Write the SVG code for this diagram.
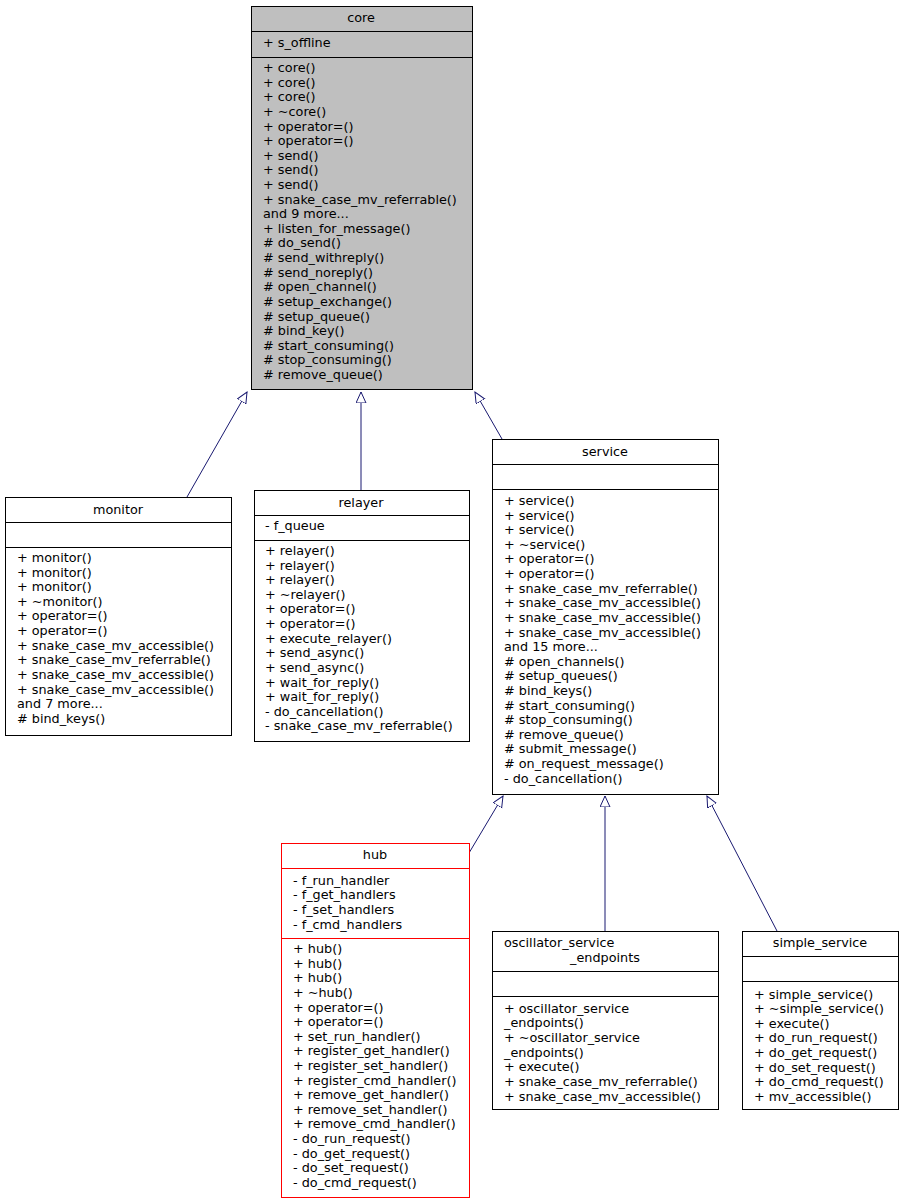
<svg xmlns="http://www.w3.org/2000/svg" width="904" height="1204" viewBox="0 0 904 1204">
<style>
text{font-family:"DejaVu Sans",sans-serif;font-size:12.8px;fill:#000}
.c{text-anchor:middle}
.b{fill:#fff;stroke:#000;stroke-width:1}
.l{stroke:#000;stroke-width:1}
.e{stroke:#191970;stroke-width:1;fill:none}
</style>
<defs><marker id="t" markerWidth="12" markerHeight="12" refX="11" refY="5" orient="auto" markerUnits="userSpaceOnUse"><path d="M0,0 L11,5 L0,10 Z" fill="#fff" stroke="#191970"/></marker></defs>
<rect width="904" height="1204" fill="#fff"/>
<g id="connectors">
<line class="e" x1="187" y1="497" x2="247" y2="392" marker-end="url(#t)"/>
<line class="e" x1="361" y1="490" x2="361" y2="392" marker-end="url(#t)"/>
<line class="e" x1="502" y1="439" x2="475" y2="392" marker-end="url(#t)"/>
<line class="e" x1="469" y1="853" x2="503" y2="796" marker-end="url(#t)"/>
<line class="e" x1="605" y1="931" x2="605" y2="796" marker-end="url(#t)"/>
<line class="e" x1="777" y1="931" x2="707" y2="796" marker-end="url(#t)"/>
</g>
<g id="core">
<rect x="251.5" y="6.5" width="221" height="383" fill="#bfbfbf" stroke="#000"/>
<line class="l" x1="251" y1="31.5" x2="472" y2="31.5"/><line class="l" x1="251" y1="57.5" x2="472" y2="57.5"/>
<text class="c" x="361" y="22">core</text>
<text x="263" y="47">+ s_offline</text>
<text x="263" y="72">+ core()</text><text x="263" y="87">+ core()</text><text x="263" y="101">+ core()</text><text x="263" y="116">+ ~core()</text><text x="263" y="131">+ operator=()</text><text x="263" y="145">+ operator=()</text><text x="263" y="160">+ send()</text><text x="263" y="174">+ send()</text><text x="263" y="189">+ send()</text><text x="263" y="204">+ snake_case_mv_referrable()</text><text x="263" y="218">and 9 more...</text><text x="263" y="233">+ listen_for_message()</text><text x="263" y="247">#  do_send()</text><text x="263" y="262">#  send_withreply()</text><text x="263" y="277">#  send_noreply()</text><text x="263" y="291">#  open_channel()</text><text x="263" y="306">#  setup_exchange()</text><text x="263" y="321">#  setup_queue()</text><text x="263" y="335">#  bind_key()</text><text x="263" y="350">#  start_consuming()</text><text x="263" y="364">#  stop_consuming()</text><text x="263" y="379">#  remove_queue()</text>
</g>
<g id="monitor">
<rect class="b" x="5.5" y="497.5" width="226" height="238"/>
<line class="l" x1="5" y1="522.5" x2="231" y2="522.5"/><line class="l" x1="5" y1="547.5" x2="231" y2="547.5"/>
<text class="c" x="118" y="514">monitor</text>
<text x="17" y="562">+ monitor()</text><text x="17" y="577">+ monitor()</text><text x="17" y="591">+ monitor()</text><text x="17" y="606">+ ~monitor()</text><text x="17" y="620">+ operator=()</text><text x="17" y="635">+ operator=()</text><text x="17" y="650">+ snake_case_mv_accessible()</text><text x="17" y="664">+ snake_case_mv_referrable()</text><text x="17" y="679">+ snake_case_mv_accessible()</text><text x="17" y="694">+ snake_case_mv_accessible()</text><text x="17" y="708">and 7 more...</text><text x="17" y="723">#  bind_keys()</text>
</g>
<g id="relayer">
<rect class="b" x="254.5" y="490.5" width="215" height="251"/>
<line class="l" x1="254" y1="515.5" x2="469" y2="515.5"/><line class="l" x1="254" y1="540.5" x2="469" y2="540.5"/>
<text class="c" x="361" y="507">relayer</text>
<text x="265" y="530">- f_queue</text>
<text x="265" y="555">+ relayer()</text><text x="265" y="570">+ relayer()</text><text x="265" y="584">+ relayer()</text><text x="265" y="599">+ ~relayer()</text><text x="265" y="613">+ operator=()</text><text x="265" y="628">+ operator=()</text><text x="265" y="643">+ execute_relayer()</text><text x="265" y="657">+ send_async()</text><text x="265" y="672">+ send_async()</text><text x="265" y="687">+ wait_for_reply()</text><text x="265" y="701">+ wait_for_reply()</text><text x="265" y="716">- do_cancellation()</text><text x="265" y="730">- snake_case_mv_referrable()</text>
</g>
<g id="service">
<rect class="b" x="492.5" y="439.5" width="226" height="355"/>
<line class="l" x1="492" y1="464.5" x2="718" y2="464.5"/><line class="l" x1="492" y1="489.5" x2="718" y2="489.5"/>
<text class="c" x="605" y="456">service</text>
<text x="504" y="505">+ service()</text><text x="504" y="520">+ service()</text><text x="504" y="534">+ service()</text><text x="504" y="549">+ ~service()</text><text x="504" y="563">+ operator=()</text><text x="504" y="578">+ operator=()</text><text x="504" y="593">+ snake_case_mv_referrable()</text><text x="504" y="607">+ snake_case_mv_accessible()</text><text x="504" y="622">+ snake_case_mv_accessible()</text><text x="504" y="637">+ snake_case_mv_accessible()</text><text x="504" y="651">and 15 more...</text><text x="504" y="666">#  open_channels()</text><text x="504" y="680">#  setup_queues()</text><text x="504" y="695">#  bind_keys()</text><text x="504" y="710">#  start_consuming()</text><text x="504" y="724">#  stop_consuming()</text><text x="504" y="739">#  remove_queue()</text><text x="504" y="753">#  submit_message()</text><text x="504" y="768">#  on_request_message()</text><text x="504" y="783">- do_cancellation()</text>
</g>
<g id="hub">
<rect x="281.5" y="843.5" width="188" height="354" fill="#fff" stroke="#ff0000"/>
<line x1="281" y1="868.5" x2="469" y2="868.5" stroke="#ff0000"/><line x1="281" y1="938.5" x2="469" y2="938.5" stroke="#ff0000"/>
<text class="c" x="375" y="859">hub</text>
<text x="293" y="885">- f_run_handler</text><text x="293" y="899">- f_get_handlers</text><text x="293" y="914">- f_set_handlers</text><text x="293" y="929">- f_cmd_handlers</text>
<text x="293" y="953">+ hub()</text><text x="293" y="968">+ hub()</text><text x="293" y="982">+ hub()</text><text x="293" y="997">+ ~hub()</text><text x="293" y="1012">+ operator=()</text><text x="293" y="1026">+ operator=()</text><text x="293" y="1041">+ set_run_handler()</text><text x="293" y="1055">+ register_get_handler()</text><text x="293" y="1070">+ register_set_handler()</text><text x="293" y="1085">+ register_cmd_handler()</text><text x="293" y="1099">+ remove_get_handler()</text><text x="293" y="1114">+ remove_set_handler()</text><text x="293" y="1128">+ remove_cmd_handler()</text><text x="293" y="1143">- do_run_request()</text><text x="293" y="1158">- do_get_request()</text><text x="293" y="1172">- do_set_request()</text><text x="293" y="1187">- do_cmd_request()</text>
</g>
<g id="oscillator_service_endpoints">
<rect class="b" x="492.5" y="931.5" width="226" height="178"/>
<line class="l" x1="492" y1="971.5" x2="718" y2="971.5"/><line class="l" x1="492" y1="996.5" x2="718" y2="996.5"/>
<text x="504" y="947">oscillator_service</text><text class="c" x="605" y="962">_endpoints</text>
<text x="504" y="1013">+ oscillator_service</text><text x="504" y="1027">_endpoints()</text><text x="504" y="1042">+ ~oscillator_service</text><text x="504" y="1057">_endpoints()</text><text x="504" y="1071">+ execute()</text><text x="504" y="1086">+ snake_case_mv_referrable()</text><text x="504" y="1101">+ snake_case_mv_accessible()</text>
</g>
<g id="simple_service">
<rect class="b" x="742.5" y="931.5" width="156" height="178"/>
<line class="l" x1="742" y1="956.5" x2="898" y2="956.5"/><line class="l" x1="742" y1="981.5" x2="898" y2="981.5"/>
<text class="c" x="820" y="947">simple_service</text>
<text x="754" y="999">+ simple_service()</text><text x="754" y="1013">+ ~simple_service()</text><text x="754" y="1028">+ execute()</text><text x="754" y="1042">+ do_run_request()</text><text x="754" y="1057">+ do_get_request()</text><text x="754" y="1072">+ do_set_request()</text><text x="754" y="1086">+ do_cmd_request()</text><text x="754" y="1101">+ mv_accessible()</text>
</g>
</svg>
